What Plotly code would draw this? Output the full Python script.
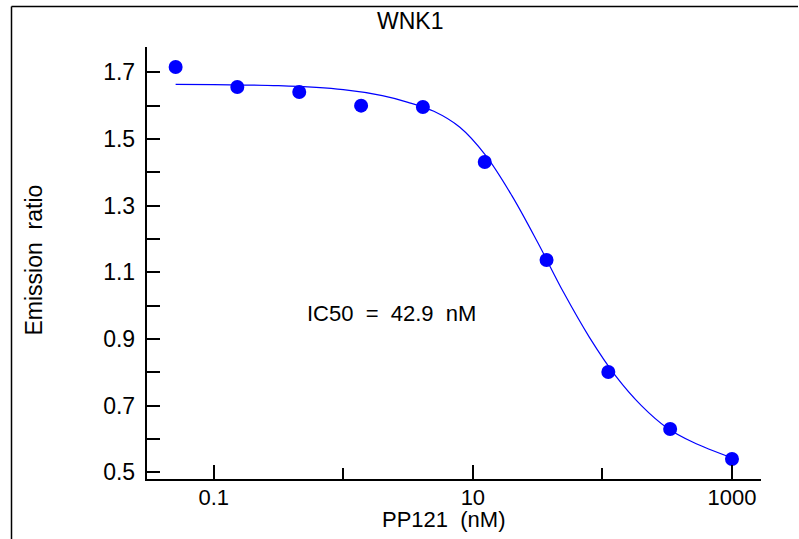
import plotly.graph_objects as go

# Data
conc_nM = [0.0508, 0.152, 0.457, 1.372, 4.115, 12.35, 37.04, 111.1, 333.3, 1000.0]
emission_ratio = [1.716, 1.656, 1.641, 1.600, 1.596, 1.431, 1.137, 0.801, 0.630, 0.540]

# Fitted curve
fit_x = [0.0508, 0.1, 0.316, 1.0, 2.0, 3.16, 5.0, 7.94, 12.6, 20.0, 31.6, 50.1, 79.4, 126, 200, 316, 501, 1000]
fit_y = [1.664, 1.663, 1.660, 1.648, 1.630, 1.610, 1.583, 1.535, 1.450, 1.330, 1.190, 1.040, 0.905, 0.790, 0.700, 0.633, 0.590, 0.543]

x_major = [0.1, 10, 1000]
x_major_text = ["0.1", "10", "1000"]
x_minor = [1, 100]
y_major = [0.5, 0.7, 0.9, 1.1, 1.3, 1.5, 1.7]
y_major_text = ["0.5", "0.7", "0.9", "1.1", "1.3", "1.5", "1.7"]
y_minor = [0.6, 0.8, 1.0, 1.2, 1.4, 1.6]

title_text = "WNK1"
x_title = "PP121  (nM)"
y_title = "Emission  ratio"
ic50_text = "IC50  =  42.9  nM"

W, H = 799, 539
FONT = "Arial, Liberation Sans, sans-serif"
BLUE = "#0000ff"

def px(x):
    return x / W

def py(y):
    return 1 - y / H

fig = go.Figure()
fig.add_trace(go.Scatter(x=fit_x, y=fit_y, mode="lines", line=dict(color=BLUE, width=1.2, shape="spline"),
                         hoverinfo="skip", showlegend=False))
fig.add_trace(go.Scatter(x=conc_nM, y=emission_ratio, mode="markers",
                         marker=dict(color=BLUE, size=14, line=dict(width=0)), showlegend=False, cliponaxis=False))

x_left, x_right = 146.5, 761
y_top, y_bot = 47, 479

fig.update_layout(
    width=W, height=H,
    margin=dict(l=0, r=0, t=0, b=0),
    paper_bgcolor="white", plot_bgcolor="white",
    font=dict(family=FONT, size=23, color="black"),
    xaxis=dict(
        type="log", range=[-1.519, 3.224], domain=[px(x_left), px(x_right)],
        showgrid=False, zeroline=False, showline=True, linecolor="black", linewidth=1.5,
        tickmode="array", tickvals=x_major, ticktext=x_major_text,
        ticks="inside", ticklen=14, tickwidth=1.5, tickcolor="black",
        ticklabelstandoff=-2, tickfont=dict(size=22),
        minor=dict(tickmode="array", tickvals=x_minor, ticks="inside", ticklen=11,
                   tickwidth=1.5, tickcolor="black", showgrid=False),
        automargin=False, fixedrange=True,
    ),
    yaxis=dict(
        range=[0.48, 1.776], domain=[py(y_bot), py(y_top)],
        showgrid=False, zeroline=False, showline=True, linecolor="black", linewidth=1.5,
        tickmode="array", tickvals=y_major, ticktext=y_major_text,
        ticks="inside", ticklen=14, tickwidth=1.5, tickcolor="black",
        ticklabelstandoff=5, tickfont=dict(size=23),
        minor=dict(tickmode="array", tickvals=y_minor, ticks="inside", ticklen=14,
                   tickwidth=1.5, tickcolor="black", showgrid=False),
        automargin=False, fixedrange=True,
    ),
    shapes=[
        dict(type="line", xref="paper", yref="paper", x0=px(11.5), x1=px(11.5), y0=py(6.5), y1=py(545),
             line=dict(color="black", width=1.5)),
        dict(type="line", xref="paper", yref="paper", x0=px(11.5), x1=px(798), y0=py(6.5), y1=py(6.5),
             line=dict(color="black", width=1.5)),
    ],
    annotations=[
        dict(text=title_text, xref="paper", yref="paper", x=px(409.7), y=py(21), xanchor="center",
             yanchor="middle", showarrow=False, font=dict(size=23)),
        dict(text=x_title, xref="paper", yref="paper", x=px(444), y=py(519), xanchor="center",
             yanchor="middle", showarrow=False, font=dict(size=22)),
        dict(text=y_title, xref="paper", yref="paper", x=px(33), y=py(260.5), xanchor="center",
             yanchor="middle", textangle=-90, showarrow=False, font=dict(size=23)),
        dict(text=ic50_text, xref="paper", yref="paper", x=px(391.5), y=py(313), xanchor="center",
             yanchor="middle", showarrow=False, font=dict(size=22)),
    ],
)

fig.write_html("out.html", config={"displayModeBar": False},
               post_script="document.body.style.margin='0';document.body.style.overflow='hidden';")
